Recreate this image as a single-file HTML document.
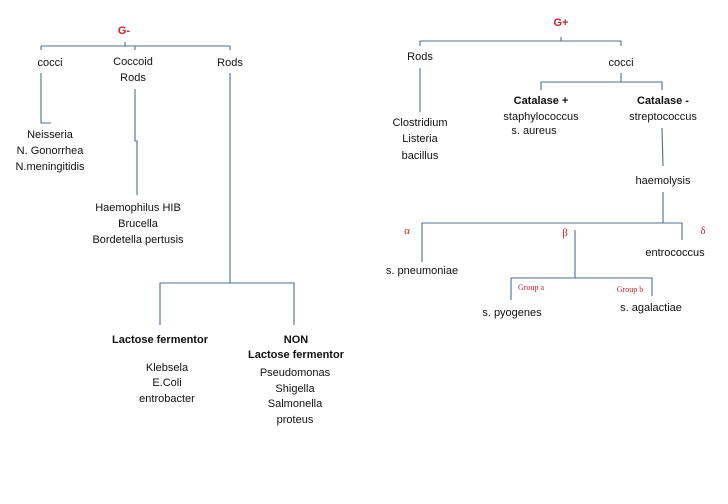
<!DOCTYPE html>
<html><head><meta charset="utf-8"><style>
html,body{margin:0;padding:0;background:#fff;}
svg{display:block}
text{font-family:"Liberation Sans",sans-serif;font-size:11px;fill:#111;text-anchor:middle}
.b{font-weight:bold}
.r{fill:#d0202a;font-weight:bold}
.g{font-family:"Liberation Serif",serif;fill:#d0202a;font-size:11px}
.s{font-family:"Liberation Serif",serif;fill:#d0202a;font-size:8px}
line,polyline{stroke:#4a7090;stroke-width:1.1;fill:none}
</style></head><body>
<svg width="728" height="504" viewBox="0 0 728 504">
<!-- G- -->
<text x="124" y="34" class="r">G-</text>
<line x1="41" y1="46" x2="230" y2="46"/>
<line x1="125" y1="42" x2="125" y2="46"/>
<line x1="41" y1="46" x2="41" y2="50"/>
<line x1="135" y1="46" x2="135" y2="50"/>
<line x1="230" y1="46" x2="230" y2="50"/>
<text x="50" y="66">cocci</text>
<text x="133" y="65">Coccoid</text>
<text x="133" y="81">Rods</text>
<text x="230" y="66">Rods</text>
<polyline points="41,73 41,123 51,123"/>
<text x="50" y="138">Neisseria</text>
<text x="50" y="154">N. Gonorrhea</text>
<text x="50" y="170">N.meningitidis</text>
<polyline points="135,89 135,141 137,141 137,195"/>
<text x="138" y="211">Haemophilus HIB</text>
<text x="138" y="227">Brucella</text>
<text x="138" y="243">Bordetella pertusis</text>
<line x1="230" y1="73" x2="230" y2="283"/>
<polyline points="160,325 160,283 294,283 294,325"/>
<text x="160" y="343" class="b">Lactose fermentor</text>
<text x="167" y="371">Klebsela</text>
<text x="167" y="386">E.Coli</text>
<text x="167" y="402">entrobacter</text>
<text x="296" y="343" class="b">NON</text>
<text x="296" y="358" class="b">Lactose fermentor</text>
<text x="295" y="376">Pseudomonas</text>
<text x="295" y="392">Shigella</text>
<text x="295" y="407">Salmonella</text>
<text x="295" y="423">proteus</text>
<!-- G+ -->
<text x="561" y="26" class="r">G+</text>
<polyline points="420,46 420,41 621,41 621,46"/>
<line x1="561" y1="37" x2="561" y2="41"/>
<text x="420" y="60">Rods</text>
<text x="621" y="66">cocci</text>
<line x1="420" y1="68" x2="420" y2="112"/>
<text x="420" y="126">Clostridium</text>
<text x="420" y="142">Listeria</text>
<text x="420" y="159">bacillus</text>
<line x1="621" y1="73" x2="621" y2="82"/>
<polyline points="541,90 541,82 662,82 662,90"/>
<text x="541" y="104" class="b">Catalase +</text>
<text x="541" y="120">staphylococcus</text>
<text x="534" y="134">s. aureus</text>
<text x="663" y="104" class="b">Catalase -</text>
<text x="663" y="120">streptococcus</text>
<line x1="662" y1="128" x2="663" y2="166"/>
<text x="663" y="184">haemolysis</text>
<line x1="663" y1="192" x2="663" y2="223"/>
<polyline points="422,262 422,223 682,223 682,240"/>
<text x="407" y="234" class="g">α</text>
<text x="565" y="236" class="g">β</text>
<text x="703" y="234" class="g">δ</text>
<text x="422" y="274">s. pneumoniae</text>
<text x="675" y="256">entrococcus</text>
<line x1="575" y1="230" x2="575" y2="278"/>
<polyline points="511,300 511,278 652,278 652,296"/>
<text x="531" y="290" class="s">Group a</text>
<text x="630" y="292" class="s">Group b</text>
<text x="512" y="316">s. pyogenes</text>
<text x="651" y="311">s. agalactiae</text>
</svg>
</body></html>
